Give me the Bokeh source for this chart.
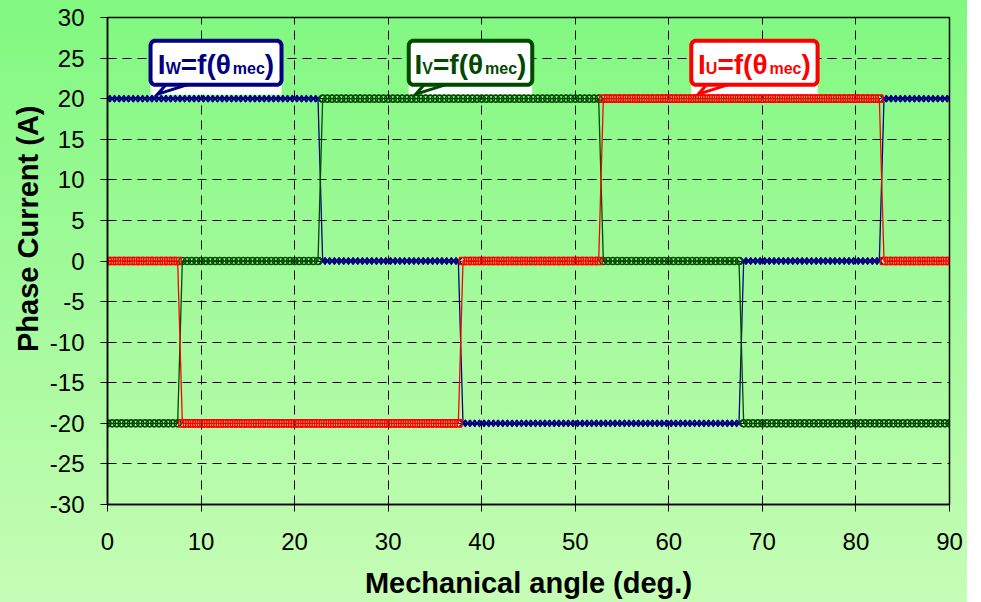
import numpy as np
from bokeh.plotting import figure
from bokeh.models import Range1d, FixedTicker, PrintfTickFormatter
from bokeh.core.properties import value
from bokeh.embed import file_html
from bokeh.resources import INLINE

# Simulation sample grid (mechanical degrees)
ANGLE_START, ANGLE_STOP, ANGLE_STEP = 0.0, 90.0, 0.5

# First sample angle of each 15-degree commutation sector
sector_start = [0, 8, 23, 38, 53, 68, 83]
# Phase currents (A) held during each sector
i_u = [0, -20, -20, 0, 20, 20, 0]
i_v = [-20, 0, 20, 20, 0, -20, -20]
i_w = [20, 20, 0, -20, -20, 0, 20]

x_ticks = [0, 10, 20, 30, 40, 50, 60, 70, 80, 90]
y_ticks = [-30, -25, -20, -15, -10, -5, 0, 5, 10, 15, 20, 25, 30]

FONT = "Liberation Sans"
NAVY, GREEN, RED = "#000080", "#004a00", "#ff0000"

angles = np.arange(ANGLE_START, ANGLE_STOP + ANGLE_STEP / 2, ANGLE_STEP)
sector = np.searchsorted(sector_start, angles, side="right") - 1
cur_u = np.asarray(i_u, dtype=float)[sector]
cur_v = np.asarray(i_v, dtype=float)[sector]
cur_w = np.asarray(i_w, dtype=float)[sector]

W, H = 967, 602
BORDER_L, BORDER_R, BORDER_T, BORDER_B = 107, 18, 17, 98
FRAME_W = W - BORDER_L - BORDER_R
FRAME_H = H - BORDER_T - BORDER_B

p = figure(width=W, height=H, output_backend="svg", toolbar_location=None,
           x_range=Range1d(0, 90), y_range=Range1d(-30, 30),
           min_border_left=BORDER_L, min_border_right=BORDER_R,
           min_border_top=BORDER_T, min_border_bottom=BORDER_B)
p.background_fill_color = None
p.border_fill_color = None
p.styles = {"background-image": "linear-gradient(to bottom, #80f880 0%, #c6fdb6 100%)"}
p.outline_line_color = "black"
p.outline_line_width = 1.5

for ax in (p.xaxis[0], p.yaxis[0]):
    ax.major_label_text_font = FONT
    ax.major_label_text_font_size = "24px"
    ax.major_label_text_color = "black"
    ax.axis_label_text_font = FONT
    ax.axis_label_text_font_size = "29px"
    ax.axis_label_text_font_style = "bold"
    ax.axis_label_text_color = "black"
    ax.major_tick_in = 0
    ax.major_tick_out = 7
    ax.minor_tick_line_color = None
    ax.axis_line_color = "black"
    ax.major_tick_line_color = "black"
    ax.axis_line_width = 1.5
    ax.formatter = PrintfTickFormatter(format="%d")

p.xaxis.ticker = FixedTicker(ticks=x_ticks)
p.yaxis.ticker = FixedTicker(ticks=y_ticks)
p.xaxis.axis_label = "Mechanical angle (deg.)"
# non-breaking spaces lift the rotated title above the frame centre
p.yaxis.axis_label = "\u00a0" * 8 + "Phase Current (A)"
p.xaxis.major_label_standoff = 21
p.yaxis.major_label_standoff = 16
p.xaxis.axis_label_standoff = 14
p.yaxis.axis_label_standoff = 3

for g in (p.xgrid[0], p.ygrid[0]):
    g.grid_line_color = "black"
    g.grid_line_dash = "9 6"
    g.grid_line_width = 1
p.xgrid.ticker = FixedTicker(ticks=x_ticks)
p.ygrid.ticker = FixedTicker(ticks=y_ticks)

# pixel -> data unit helpers for callout geometry
dx = lambda px: px * 90.0 / FRAME_W
dy = lambda px: px * 60.0 / FRAME_H

# callouts: subscript letter, colour, left / right edge of the box (deg)
callouts = [("W", NAVY, 4.6, 18.6), ("V", GREEN, 32.2, 45.4), ("U", RED, 62.4, 75.9)]
BOX_TOP, BOX_BOTTOM = 27.15, 21.7

# white gap under each box down to the trace
for _, c, l, r in callouts:
    p.quad(left=[l], right=[r], top=[BOX_BOTTOM], bottom=[20 + dy(4)],
           fill_color="white", line_color=None)

# traces
p.line(angles, cur_w, line_color=NAVY, line_width=1.3)
p.scatter(angles, cur_w, marker="x", size=9, line_color=NAVY, line_width=2)
p.line(angles, cur_v, line_color=GREEN, line_width=1.3)
p.scatter(angles, cur_v, marker="circle", size=7, line_color=GREEN,
          fill_color=None, line_width=1.6)
p.line(angles, cur_u, line_color=RED, line_width=1.3)
p.scatter(angles, cur_u, marker="square", size=7, line_color=RED,
          fill_color=None, line_width=1.6)

# Arial-Bold advance widths (em) for the callout text pieces
ADV = {"I": .278, "W": .944, "V": .667, "U": .722, "=": .584, "f": .333,
       "(": .333, ")": .333, "θ": .611, "m": .889, "e": .556, "c": .556}
MAIN, SUB = 28, 16
# per-size lift (px) that puts the rendered glyph baselines on one line
LIFT = {MAIN: 8.0, SUB: 4.0}


def text_w(s, size):
    return sum(ADV[ch] for ch in s) * size


def rounded_box(l, r, t, b, rad_px, n=8):
    rx, ry = dx(rad_px), dy(rad_px)
    corners = [(r - rx, t - ry, 0.0), (l + rx, t - ry, 90.0),
               (l + rx, b + ry, 180.0), (r - rx, b + ry, 270.0)]
    xs, ys = [], []
    for cx, cy, a0 in corners:
        for a in np.radians(np.linspace(a0, a0 + 90.0, n)):
            xs.append(cx + rx * np.cos(a))
            ys.append(cy + ry * np.sin(a))
    return xs, ys


for sub, c, l, r in callouts:
    tip_x = l + dx(7)
    p.patch([l + dx(18), tip_x, l + dx(46)],
            [BOX_BOTTOM + dy(3), 20 + dy(4.5), BOX_BOTTOM + dy(3)],
            fill_color="white", line_color=c, line_width=3, line_join="miter")
    bx, by = rounded_box(l, r, BOX_TOP, BOX_BOTTOM, 5)
    p.patch(bx, by, fill_color="white", line_color=c, line_width=4)
    pieces = [("I", MAIN), (sub, SUB), ("=f(θ", MAIN), ("mec", SUB), (")", MAIN)]
    total = sum(text_w(s, sz) for s, sz in pieces)
    x = (l + r) / 2 - dx(total / 2)
    base = BOX_BOTTOM + dy(12)
    for s, sz in pieces:
        p.text(x=[x], y=[base + dy(LIFT[sz])], text=[s], text_font=value(FONT),
               text_font_style="bold", text_font_size=value(f"{sz}px"),
               text_color=c, text_baseline="alphabetic", text_align="left")
        x += dx(text_w(s, sz))

open("out.html", "w").write(file_html(p, INLINE))
